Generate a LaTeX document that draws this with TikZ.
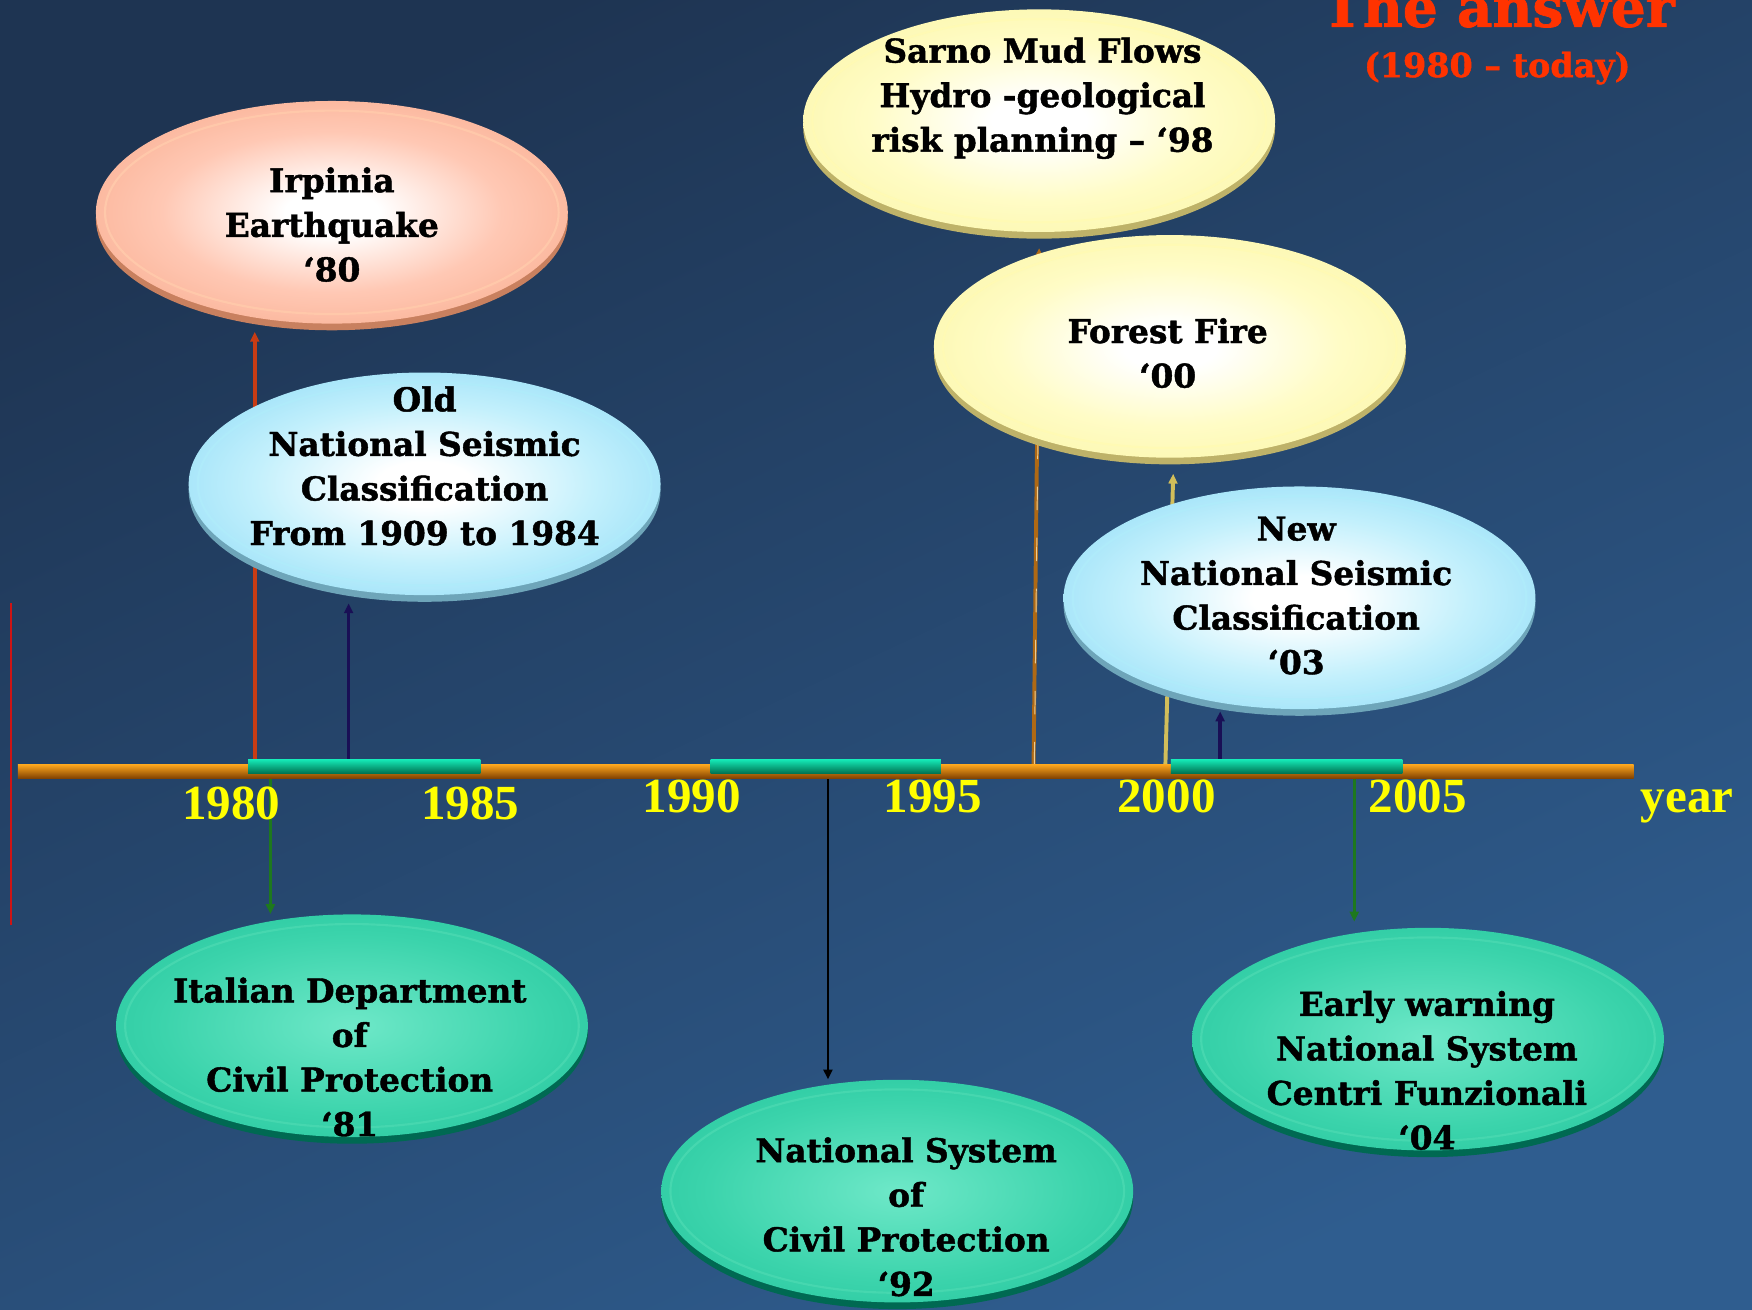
\documentclass[tikz,border=0pt]{standalone}
\usepackage{fontspec}
\setmainfont{DejaVu Serif}[BoldFeatures={FakeBold=1.3}]
\newfontfamily\yearfont{Liberation Serif}
\usetikzlibrary{shapes.geometric,arrows.meta,shadows}

\definecolor{bgT}{RGB}{30,52,82}
\definecolor{bgB}{RGB}{47,93,143}
\definecolor{orgT}{RGB}{255,168,30}
\definecolor{orgM}{RGB}{250,140,0}
\definecolor{orgB}{RGB}{125,62,0}
\definecolor{grnT}{RGB}{20,230,180}
\definecolor{grnM}{RGB}{0,200,150}
\definecolor{grnB}{RGB}{0,115,82}
\definecolor{yrcol}{RGB}{255,255,0}
\definecolor{titlered}{RGB}{255,51,0}
% peach
\definecolor{pchA}{RGB}{255,200,180}
\definecolor{pchB}{RGB}{248,168,136}
\definecolor{pchE}{RGB}{244,156,120}
\definecolor{pchC}{RGB}{255,200,170}
\definecolor{pchD}{RGB}{228,140,100}
\definecolor{pchS}{RGB}{200,128,95}
% cyan
\definecolor{cyA}{RGB}{195,240,252}
\definecolor{cyB}{RGB}{138,218,246}
\definecolor{cyE}{RGB}{108,204,238}
\definecolor{cyC}{RGB}{175,235,250}
\definecolor{cyD}{RGB}{95,190,225}
\definecolor{cyS}{RGB}{110,165,185}
% yellow
\definecolor{ylA}{RGB}{255,252,198}
\definecolor{ylB}{RGB}{250,244,162}
\definecolor{ylE}{RGB}{242,234,140}
\definecolor{ylC}{RGB}{255,250,180}
\definecolor{ylD}{RGB}{222,212,118}
\definecolor{ylS}{RGB}{190,178,105}
% green
\definecolor{gnO}{RGB}{110,232,200}
\definecolor{gnA}{RGB}{60,212,172}
\definecolor{gnB}{RGB}{25,190,150}
\definecolor{gnE}{RGB}{15,180,140}
\definecolor{gnC}{RGB}{70,215,175}
\definecolor{gnD}{RGB}{10,160,125}
\definecolor{gnS}{RGB}{0,105,82}
% connectors
\definecolor{cred}{RGB}{200,60,20}
\definecolor{cnavy}{RGB}{25,15,85}
\definecolor{cgreen}{RGB}{30,120,30}
\definecolor{cbrown}{RGB}{175,105,20}
\definecolor{cbrownL}{RGB}{235,205,150}
\definecolor{ctan}{RGB}{210,190,90}
\definecolor{vred}{RGB}{205,20,20}

\pgfdeclareradialshading{peachball}{\pgfpoint{0bp}{0bp}}{color(0bp)=(white); color(5bp)=(white); color(18bp)=(pchA); color(34bp)=(pchB); color(46bp)=(pchE); color(48bp)=(pchC); color(50bp)=(pchD)}
\pgfdeclareradialshading{cyanball}{\pgfpoint{0bp}{0bp}}{color(0bp)=(white); color(5bp)=(white); color(18bp)=(cyA); color(34bp)=(cyB); color(46bp)=(cyE); color(48bp)=(cyC); color(50bp)=(cyD)}
\pgfdeclareradialshading{yellowball}{\pgfpoint{0bp}{0bp}}{color(0bp)=(white); color(5bp)=(white); color(18bp)=(ylA); color(34bp)=(ylB); color(46bp)=(ylE); color(48bp)=(ylC); color(50bp)=(ylD)}
\pgfdeclareradialshading{greenball}{\pgfpoint{0bp}{0bp}}{color(0bp)=(gnO); color(20bp)=(gnA); color(40bp)=(gnB); color(46bp)=(gnE); color(48bp)=(gnC); color(50bp)=(gnD)}

\pgfdeclarelayer{bg}
\pgfdeclarelayer{conn}
\pgfsetlayers{bg,conn,main}

\tikzset{
  oval/.style n args={3}{ellipse, minimum width=240.4pt, minimum height=113.4pt, inner sep=0pt,
    shading=#1, general shadow={shadow yshift=-3.4pt, fill=#2},
    path picture={\draw[#3, line width=1.1pt] (path picture bounding box.center) ellipse [x radius=203, y radius=91];}},
  ovpeach/.style={oval={peachball}{pchS}{pchC}},
  ovcyan/.style={oval={cyanball}{cyS}{cyC}},
  ovyellow/.style={oval={yellowball}{ylS}{ylC}},
  ovgreen/.style={oval={greenball}{gnS}{gnC}},
  txt/.style={font=\bfseries\fontsize{16.7}{22.7}\selectfont, align=center, text=black, inner sep=0pt},
  yr/.style={font=\yearfont\bfseries\fontsize{25}{30}\selectfont, text=yrcol, inner sep=0pt, anchor=base},
  tip/.style={-{Triangle[length=5pt,width=4.5pt]}},
  conred/.style={tip, draw=cred, line width=2pt},
  connavy/.style={tip, draw=cnavy, line width=1.8pt},
  congreen/.style={tip, draw=cgreen, line width=1.6pt},
  conblack/.style={tip, draw=black, line width=1.4pt},
  conbrown/.style={tip, draw=cbrown, line width=2pt},
  contan/.style={tip, draw=ctan, line width=2pt},
}

\begin{document}
\begin{tikzpicture}[x=0.02cm,y=-0.02cm]
\useasboundingbox (0,0) rectangle (1568,1172);
\begin{pgfonlayer}{bg}
  \shade[top color=bgT, bottom color=bgB, shading angle=25] (0,0) rectangle (1568,1172);
\end{pgfonlayer}

% title
\node[anchor=base, inner sep=0pt, text=titlered, font=\bfseries\fontsize{28}{32}\selectfont] (title) at (1341,24) {The answer};
\node[anchor=base, inner sep=0pt, text=titlered, font=\bfseries\fontsize{17}{20}\selectfont] (subtitle) at (1340,69) {(1980 – today)};

% red vertical line at left
\draw[vred, line width=1.1pt] (10,540) -- (10,828);

% timeline
\shade[top color=orgT, middle color=orgM, bottom color=orgB] (16,684) rectangle (1462,697);
\foreach \a/\b in {222/430, 636/842, 1048/1255}
  \shade[top color=grnT, middle color=grnM, bottom color=grnB] (\a,680) rectangle (\b,692);

% years
\node[yr] (y1980) at (207,733) {1980};
\node[yr] (y1985) at (421,733) {1985};
\node[yr] (y1990) at (619,727) {1990};
\node[yr] (y1995) at (835,727) {1995};
\node[yr] (y2000) at (1044,727) {2000};
\node[yr] (y2005) at (1269,727) {2005};
\node[yr] (yyear) at (1510,727) {year};

% start points on the timeline
\coordinate (cIrp) at (228,684);
\coordinate (cOld) at (312,681);
\coordinate (cIta) at (242,692);
\coordinate (cNat) at (741,692);
\coordinate (cSar) at (925,685);
\coordinate (cFor) at (1043,684);
\coordinate (cNew) at (1092,682);
\coordinate (cEar) at (1212,692);

% ellipses
\node[ovpeach] (irp) at (297,190) {};
\node[ovcyan] (old) at (380,433) {};
\node[ovyellow] (sar) at (930,108) {};
\node[ovyellow] (for) at (1047,310) {};
\node[ovcyan] (new) at (1163,535) {};
\node[ovgreen] (ita) at (315,918) {};
\node[ovgreen] (nat) at (803,1066) {};
\node[ovgreen] (ear) at (1278,930) {};

% texts
\node[txt] (irpT) at (297,201) {Irpinia\\Earthquake\\‘80};
\node[txt] (oldT) at (380,417) {Old\\National Seismic\\Classification\\From 1909 to 1984};
\node[txt] (sarT) at (933,88) {Sarno Mud Flows\\Hydro -geological\\risk planning – ‘98};
\node[txt] (forT) at (1045,316) {Forest Fire\\‘00};
\node[txt] (newT) at (1160,533) {New\\National Seismic\\Classification\\‘03};
\node[txt] (itaT) at (313,946) {Italian Department\\of\\Civil Protection\\‘81};
\node[txt] (natT) at (811,1089) {National System\\of\\Civil Protection\\‘92};
\node[txt] (earT) at (1277,958) {Early warning\\National System\\Centri Funzionali\\‘04};

% connectors (behind the ellipses)
\begin{pgfonlayer}{conn}
  \draw[conred] (cIrp) -- ([yshift=-4pt]cIrp |- irp.south);
  \draw[connavy] (cOld) -- ([yshift=-4pt]cOld |- old.south);
  \draw[congreen] (cIta) -- (cIta |- ita.north);
  \draw[conblack] (cNat) -- (cNat |- nat.north);
  \draw[conbrown] (cSar) -- ([yshift=-8pt]sar.south);
  \draw[cbrownL, line width=0.5pt, dash pattern=on 12pt off 14pt] ([xshift=0.4pt]cSar) -- ([xshift=0.4pt,yshift=-12pt]sar.south);
  \draw[contan] (cFor) -- ([xshift=1.7pt,yshift=-8pt]for.south);
  \draw[connavy] (cNew) -- ([yshift=-1pt]cNew |- new.south);
  \draw[congreen] (cEar) -- ([yshift=3pt]cEar |- ear.north);
\end{pgfonlayer}
\end{tikzpicture}
\end{document}
